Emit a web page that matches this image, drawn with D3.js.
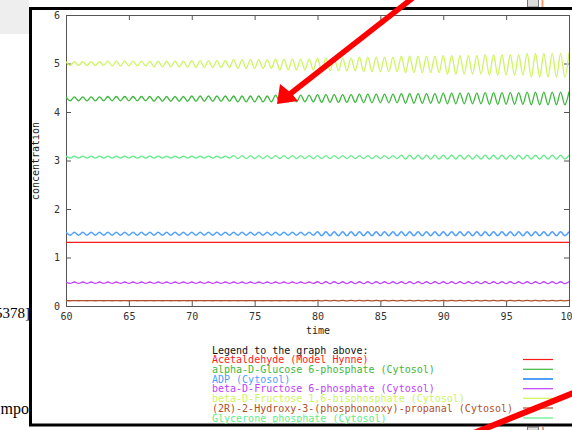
<!DOCTYPE html>
<html><head><meta charset="utf-8">
<script src="https://cdn.jsdelivr.net/npm/d3@7"></script>
<style>
html,body{margin:0;padding:0;background:#fff;overflow:hidden;}
svg{display:block;}
text{font-family:"DejaVu Sans Mono","Liberation Mono",monospace;}
</style></head>
<body>
<svg id="chart" width="572" height="430"></svg>
<script>
// ---- data ----
const times = [60,60.33,60.67,61,61.33,61.67,62,62.33,62.67,63,63.33,63.67,64,64.33,64.67,65,65.33,65.67,66,66.33,66.67,67,67.33,67.67,68,68.33,68.67,69,69.33,69.67,70,70.33,70.67,71,71.33,71.67,72,72.33,72.67,73,73.33,73.67,74,74.33,74.67,75,75.33,75.67,76,76.33,76.67,77,77.33,77.67,78,78.33,78.67,79,79.33,79.67,80,80.33,80.67,81,81.33,81.67,82,82.33,82.67,83,83.33,83.67,84,84.33,84.67,85,85.33,85.67,86,86.33,86.67,87,87.33,87.67,88,88.33,88.67,89,89.33,89.67,90,90.33,90.67,91,91.33,91.67,92,92.33,92.67,93,93.33,93.67,94,94.33,94.67,95,95.33,95.67,96,96.33,96.67,97,97.33,97.67,98,98.33,98.67,99,99.33,99.67,100];

const acetaldehydeTimes = [60, 100];
const acetaldehyde = [1.31, 1.31];

const glucose6p = [
4.31,4.23,4.31,4.23,4.31,4.23,4.31,4.23,4.31,4.23,
4.32,4.23,4.32,4.23,4.32,4.23,4.32,4.23,4.32,4.23,
4.32,4.22,4.32,4.22,4.32,4.22,4.32,4.22,4.32,4.22,
4.33,4.22,4.33,4.22,4.33,4.22,4.33,4.22,4.33,4.22,
4.33,4.21,4.33,4.21,4.33,4.21,4.33,4.21,4.33,4.21,
4.35,4.21,4.35,4.21,4.35,4.21,4.35,4.21,4.35,4.21,
4.36,4.20,4.36,4.20,4.36,4.20,4.36,4.20,4.36,4.20,
4.37,4.19,4.37,4.19,4.37,4.19,4.37,4.19,4.37,4.19,
4.38,4.18,4.38,4.18,4.38,4.18,4.38,4.18,4.38,4.18,
4.39,4.17,4.39,4.17,4.39,4.17,4.39,4.17,4.39,4.17,
4.40,4.16,4.40,4.16,4.40,4.16,4.40,4.16,4.40,4.16,
4.41,4.15,4.41,4.15,4.41,4.15,4.41,4.15,4.41,4.15,
4.42];

const adp = [
1.52,1.46,1.52,1.46,1.52,1.46,1.52,1.46,1.52,1.46,
1.52,1.46,1.52,1.46,1.52,1.46,1.52,1.46,1.52,1.46,
1.52,1.46,1.52,1.46,1.52,1.46,1.52,1.46,1.52,1.46,
1.52,1.46,1.52,1.46,1.52,1.46,1.52,1.46,1.52,1.46,
1.52,1.46,1.52,1.46,1.52,1.46,1.52,1.46,1.52,1.46,
1.52,1.46,1.52,1.46,1.52,1.46,1.52,1.46,1.52,1.46,
1.53,1.45,1.53,1.45,1.53,1.45,1.53,1.45,1.53,1.45,
1.53,1.45,1.53,1.45,1.53,1.45,1.53,1.45,1.53,1.45,
1.53,1.45,1.53,1.45,1.53,1.45,1.53,1.45,1.53,1.45,
1.53,1.45,1.53,1.45,1.53,1.45,1.53,1.45,1.53,1.45,
1.53,1.45,1.53,1.45,1.53,1.45,1.53,1.45,1.53,1.45,
1.53,1.45,1.53,1.45,1.53,1.45,1.53,1.45,1.53,1.45,
1.53];

const fructose6p = [
0.495,0.465,0.495,0.465,0.495,0.465,0.495,0.465,0.495,0.465,
0.495,0.465,0.495,0.465,0.495,0.465,0.495,0.465,0.495,0.465,
0.495,0.465,0.495,0.465,0.495,0.465,0.495,0.465,0.495,0.465,
0.495,0.465,0.495,0.465,0.495,0.465,0.495,0.465,0.495,0.465,
0.495,0.465,0.495,0.465,0.495,0.465,0.495,0.465,0.495,0.465,
0.495,0.465,0.495,0.465,0.495,0.465,0.495,0.465,0.495,0.465,
0.50,0.46,0.50,0.46,0.50,0.46,0.50,0.46,0.50,0.46,
0.50,0.46,0.50,0.46,0.50,0.46,0.50,0.46,0.50,0.46,
0.50,0.46,0.50,0.46,0.50,0.46,0.50,0.46,0.50,0.46,
0.50,0.46,0.50,0.46,0.50,0.46,0.50,0.46,0.50,0.46,
0.50,0.46,0.50,0.46,0.50,0.46,0.50,0.46,0.50,0.46,
0.50,0.46,0.50,0.46,0.50,0.46,0.50,0.46,0.50,0.46,
0.50];

const fructose16bp = [
5.04,4.96,5.04,4.96,5.04,4.96,5.04,4.96,5.04,4.96,
5.05,4.95,5.05,4.95,5.05,4.95,5.05,4.95,5.05,4.95,
5.05,4.93,5.05,4.93,5.05,4.93,5.05,4.93,5.05,4.93,
5.06,4.92,5.06,4.92,5.06,4.92,5.06,4.92,5.06,4.92,
5.08,4.90,5.08,4.90,5.08,4.90,5.08,4.90,5.08,4.90,
5.09,4.87,5.09,4.87,5.09,4.87,5.09,4.87,5.09,4.87,
5.11,4.85,5.11,4.85,5.11,4.85,5.11,4.85,5.11,4.85,
5.13,4.83,5.13,4.83,5.13,4.83,5.13,4.83,5.13,4.83,
5.15,4.81,5.15,4.81,5.15,4.81,5.15,4.81,5.15,4.81,
5.16,4.78,5.16,4.78,5.16,4.78,5.16,4.78,5.16,4.78,
5.18,4.76,5.18,4.76,5.18,4.76,5.18,4.76,5.18,4.76,
5.21,4.72,5.21,4.72,5.21,4.72,5.21,4.72,5.21,4.72,
5.22];

const hydroxyPropanal = [
0.112,0.108,0.112,0.108,0.112,0.108,0.112,0.108,0.112,0.108,
0.112,0.108,0.112,0.108,0.112,0.108,0.112,0.108,0.112,0.108,
0.112,0.108,0.112,0.108,0.112,0.108,0.112,0.108,0.112,0.108,
0.112,0.108,0.112,0.108,0.112,0.108,0.112,0.108,0.112,0.108,
0.112,0.108,0.112,0.108,0.112,0.108,0.112,0.108,0.112,0.108,
0.112,0.108,0.112,0.108,0.112,0.108,0.112,0.108,0.112,0.108,
0.115,0.105,0.115,0.105,0.115,0.105,0.115,0.105,0.115,0.105,
0.115,0.105,0.115,0.105,0.115,0.105,0.115,0.105,0.115,0.105,
0.115,0.105,0.115,0.105,0.115,0.105,0.115,0.105,0.115,0.105,
0.115,0.105,0.115,0.105,0.115,0.105,0.115,0.105,0.115,0.105,
0.115,0.105,0.115,0.105,0.115,0.105,0.115,0.105,0.115,0.105,
0.115,0.105,0.115,0.105,0.115,0.105,0.115,0.105,0.115,0.105,
0.115];

const glyceronePhosphate = [
3.09,3.05,3.09,3.05,3.09,3.05,3.09,3.05,3.09,3.05,
3.09,3.05,3.09,3.05,3.09,3.05,3.09,3.05,3.09,3.05,
3.09,3.05,3.09,3.05,3.09,3.05,3.09,3.05,3.09,3.05,
3.09,3.05,3.09,3.05,3.09,3.05,3.09,3.05,3.09,3.05,
3.10,3.04,3.10,3.04,3.10,3.04,3.10,3.04,3.10,3.04,
3.10,3.04,3.10,3.04,3.10,3.04,3.10,3.04,3.10,3.04,
3.10,3.04,3.10,3.04,3.10,3.04,3.10,3.04,3.10,3.04,
3.10,3.04,3.10,3.04,3.10,3.04,3.10,3.04,3.10,3.04,
3.11,3.03,3.11,3.03,3.11,3.03,3.11,3.03,3.11,3.03,
3.11,3.03,3.11,3.03,3.11,3.03,3.11,3.03,3.11,3.03,
3.11,3.03,3.11,3.03,3.11,3.03,3.11,3.03,3.11,3.03,
3.11,3.03,3.11,3.03,3.11,3.03,3.11,3.03,3.11,3.03,
3.11];

const seriesNames = [
  "Acetaldehyde (Model Hynne)",
  "alpha-D-Glucose 6-phosphate (Cytosol)",
  "ADP (Cytosol)",
  "beta-D-Fructose 6-phosphate (Cytosol)",
  "beta-D-Fructose 1,6-bisphosphate (Cytosol)",
  "(2R)-2-Hydroxy-3-(phosphonooxy)-propanal (Cytosol)",
  "Glycerone phosphate (Cytosol)"
];
const seriesColors = ["#ff1a1a","#3cb83c","#4fa0ff","#c040ff","#ccf560","#b0502a","#60ee88"];
const xTicks = [60,65,70,75,80,85,90,95,100];
const yTicks = [0,1,2,3,4,5,6];
const xLabel = "time";
const yLabel = "concentration";
const legendTitle = "Legend to the graph above:";

// ---- drawing ----
const svg = d3.select("#chart");

// page backdrop fragments
svg.append("rect").attr("x",0).attr("y",0).attr("width",29).attr("height",34).attr("fill","#eeeeee");
svg.append("text").attr("x",30).attr("y",318).attr("text-anchor","end")
  .style("font-family","'Liberation Serif','Times New Roman',serif").style("font-size","15px").text("5378]");
svg.append("text").attr("x",29).attr("y",414).attr("text-anchor","end")
  .style("font-family","'Liberation Serif','Times New Roman',serif").style("font-size","16px").text("mpo");
svg.append("rect").attr("x",527.5).attr("y",-2).attr("width",11).attr("height",9).attr("fill","#dcdcdc").attr("stroke","#777");
svg.append("line").attr("x1",542.5).attr("x2",542.5).attr("y1",0).attr("y2",7).attr("stroke","#f0a070").attr("stroke-width",2);
svg.append("rect").attr("x",527.5).attr("y",427).attr("width",11).attr("height",9).attr("fill","#dcdcdc").attr("stroke","#777");
svg.append("line").attr("x1",543).attr("x2",543).attr("y1",427).attr("y2",430).attr("stroke","#f0a070").attr("stroke-width",2);

// frame
svg.append("rect").attr("x",30.5).attr("y",8.5).attr("width",560).attr("height",416.5)
  .attr("fill","#fff").attr("stroke","#000").attr("stroke-width",3);

const plot = {left:66, right:569, top:15, bottom:306};
const x = d3.scaleLinear().domain([60,100]).range([plot.left, plot.right]);
const y = d3.scaleLinear().domain([0,6]).range([plot.bottom, plot.top]);

svg.append("clipPath").attr("id","clip").append("rect")
  .attr("x",plot.left).attr("y",plot.top).attr("width",plot.right-plot.left).attr("height",plot.bottom-plot.top);

const axisColor = "#555";
function styleAxis(g){
  g.select(".domain").remove();
  g.selectAll("line").attr("stroke",axisColor);
  g.selectAll("text").attr("fill","#333").style("font-size","10px").style("font-family","'DejaVu Sans Mono',monospace");
}
svg.append("g").attr("transform",`translate(0,${plot.bottom})`)
  .call(d3.axisBottom(x).tickValues(xTicks).tickSize(-5).tickSizeOuter(0).tickPadding(7).tickFormat(d3.format("d")))
  .call(styleAxis);
svg.append("g").attr("transform",`translate(0,${plot.top})`)
  .call(d3.axisTop(x).tickValues(xTicks).tickSize(-5).tickSizeOuter(0).tickFormat(""))
  .call(styleAxis);
svg.append("g").attr("transform",`translate(${plot.left},0)`)
  .call(d3.axisLeft(y).tickValues(yTicks).tickSize(-5).tickSizeOuter(0).tickPadding(6).tickFormat(d3.format("d")))
  .call(styleAxis);
svg.append("g").attr("transform",`translate(${plot.right},0)`)
  .call(d3.axisRight(y).tickValues(yTicks).tickSize(-5).tickSizeOuter(0).tickFormat(""))
  .call(styleAxis);

svg.append("rect").attr("x",plot.left+0.5).attr("y",plot.top+0.5)
  .attr("width",plot.right-plot.left).attr("height",plot.bottom-plot.top)
  .attr("fill","none").attr("stroke",axisColor).attr("stroke-width",1);

const seriesData = [
  {t:acetaldehydeTimes, v:acetaldehyde},
  {t:times, v:glucose6p},
  {t:times, v:adp},
  {t:times, v:fructose6p},
  {t:times, v:fructose16bp},
  {t:times, v:hydroxyPropanal},
  {t:times, v:glyceronePhosphate}
];
const line = d3.line().x(d=>x(d[0])).y(d=>y(d[1])).curve(d3.curveMonotoneX);
const lines = svg.append("g").attr("clip-path","url(#clip)");
seriesData.forEach((s,i)=>{
  lines.append("path").datum(s.t.map((t,j)=>[t,s.v[j]]))
    .attr("d",line).attr("fill","none").attr("stroke",seriesColors[i])
    .attr("stroke-width", i===2 ? 1.5 : 1.3);
});

// axis labels
svg.append("text").attr("x",318).attr("y",334).attr("text-anchor","middle")
  .attr("fill","#222").style("font-size","10px").text(xLabel);
svg.append("text").attr("transform","translate(39,161) rotate(-90)").attr("text-anchor","middle")
  .attr("fill","#222").style("font-size","10px").text(yLabel);

// legend
const leg = svg.append("g");
leg.append("text").attr("x",212).attr("y",353.5).attr("fill","#111").style("font-size","10px").text(legendTitle);
const legY = [359.5,369.3,379,388.7,398.3,408,418];
seriesNames.forEach((n,i)=>{
  leg.append("text").attr("x",212).attr("y",legY[i]+3.5).attr("fill",seriesColors[i]).style("font-size","10px").text(n);
  leg.append("line").attr("x1",523).attr("x2",553).attr("y1",legY[i]).attr("y2",legY[i])
    .attr("stroke",seriesColors[i]).attr("stroke-width", i===2 ? 2 : 1.2);
});

// red annotation arrows
svg.append("line").attr("x1",414).attr("y1",-3).attr("x2",290).attr("y2",94)
  .attr("stroke","#ff0000").attr("stroke-width",5.5);
svg.append("path").attr("d","M277,104 L280,84 L290,92 L298,101 Z").attr("fill","#ff0000");
svg.append("line").attr("x1",576).attr("y1",392).attr("x2",474).attr("y2",433)
  .attr("stroke","#ff0000").attr("stroke-width",6);
</script>
</body></html>
